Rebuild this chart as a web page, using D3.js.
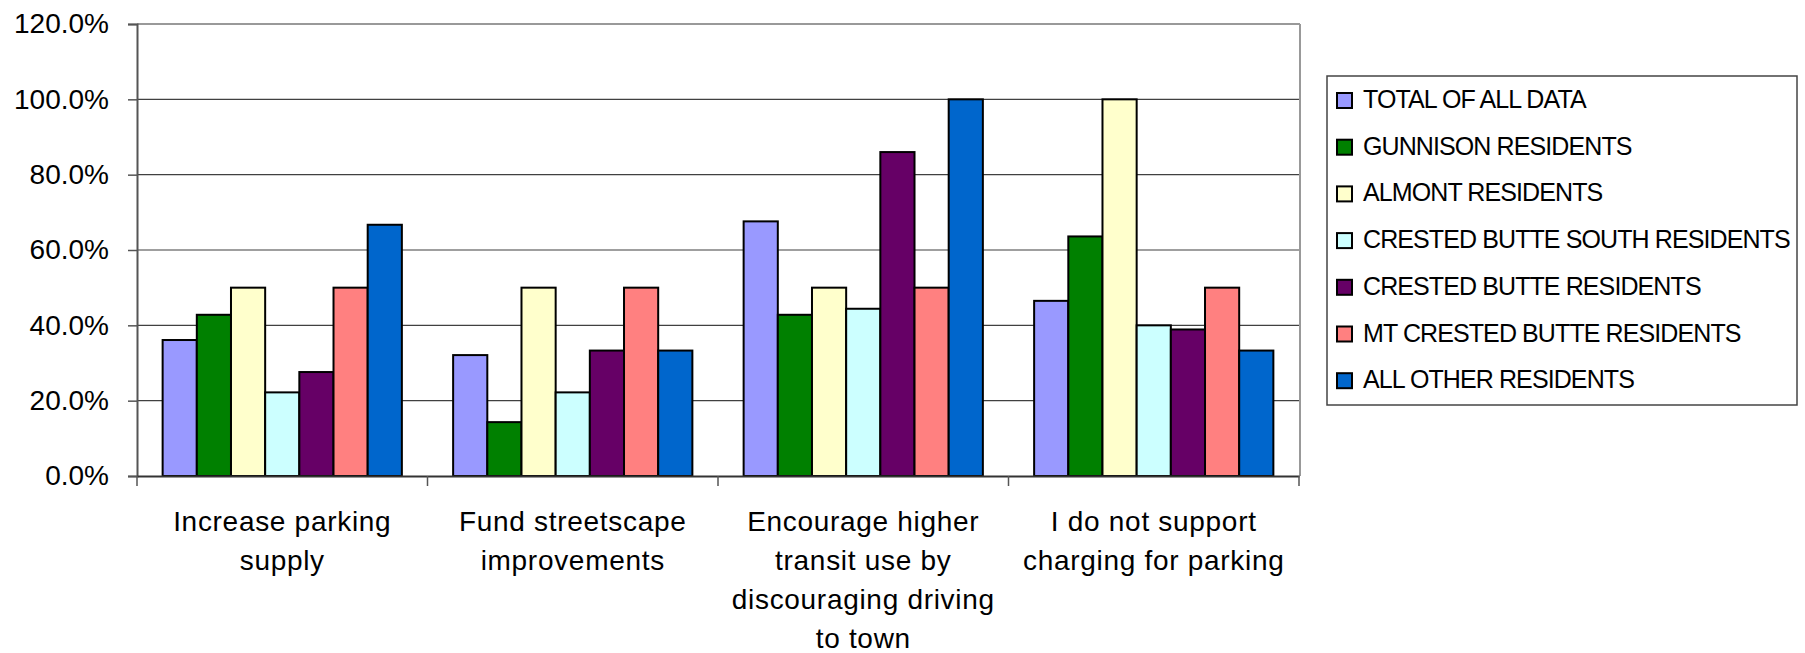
<!DOCTYPE html>
<html>
<head>
<meta charset="utf-8">
<script src="https://cdn.jsdelivr.net/npm/d3@7"></script>
<style>
  html, body { margin: 0; padding: 0; background: #fff; }
  svg { display: block; }
  text { font-family: "Liberation Sans", Arial, sans-serif; fill: #000; }
</style>
</head>
<body>
<svg id="chart" width="1805" height="653"></svg>
<script>
// ---- data ----
const categories = [
  "Increase parking\nsupply",
  "Fund streetscape\nimprovements",
  "Encourage higher\ntransit use by\ndiscouraging driving\nto town",
  "I do not support\ncharging for parking"
];
const seriesNames = [
  "TOTAL OF ALL DATA",
  "GUNNISON RESIDENTS",
  "ALMONT RESIDENTS",
  "CRESTED BUTTE SOUTH RESIDENTS",
  "CRESTED BUTTE RESIDENTS",
  "MT CRESTED BUTTE RESIDENTS",
  "ALL OTHER RESIDENTS"
];
const totalAll        = [0.361, 0.321, 0.676, 0.465];
const gunnison        = [0.428, 0.143, 0.428, 0.636];
const almont          = [0.500, 0.500, 0.500, 1.000];
const crestedSouth    = [0.222, 0.222, 0.444, 0.400];
const crestedButte    = [0.276, 0.333, 0.860, 0.389];
const mtCrestedButte  = [0.500, 0.500, 0.500, 0.500];
const allOther        = [0.667, 0.333, 1.000, 0.333];
const seriesValues = [totalAll, gunnison, almont, crestedSouth, crestedButte, mtCrestedButte, allOther];
const seriesColors = ["#9999FF", "#008000", "#FFFFCC", "#CCFFFF", "#660066", "#FF8080", "#0066CC"];
const yTicks = [0, 0.2, 0.4, 0.6, 0.8, 1.0, 1.2];

// ---- layout ----
const plot = { left: 137, right: 1299, top: 24, bottom: 476 };
const svg = d3.select("#chart");

const x0 = d3.scaleBand().domain(d3.range(categories.length))
  .range([plot.left, plot.right]).padding(0);
const x1 = d3.scaleBand().domain(d3.range(seriesNames.length))
  .range([0, x0.bandwidth()]).paddingInner(0).paddingOuter(0.75);
const y = d3.scaleLinear().domain([0, 1.2]).range([plot.bottom, plot.top]);

// gridlines
svg.append("g").selectAll("line")
  .data(yTicks.filter(t => t > 0 && t < 1.2))
  .join("line")
  .attr("x1", plot.left).attr("x2", plot.right)
  .attr("y1", d => y(d)).attr("y2", d => y(d))
  .attr("stroke", "#404040").attr("stroke-width", 1.2);

// plot border top & right
svg.append("line").attr("x1", plot.left).attr("x2", plot.right + 1)
  .attr("y1", plot.top).attr("y2", plot.top)
  .attr("stroke", "#999").attr("stroke-width", 2);
svg.append("line").attr("x1", plot.right + 1).attr("x2", plot.right + 1)
  .attr("y1", plot.top).attr("y2", plot.bottom)
  .attr("stroke", "#999").attr("stroke-width", 2);

// bars
const groups = svg.append("g").selectAll("g")
  .data(categories.map((c, i) => i))
  .join("g")
  .attr("transform", i => `translate(${x0(i)},0)`);
groups.selectAll("rect")
  .data(i => seriesValues.map((vals, s) => ({ s, v: vals[i] })))
  .join("rect")
  .attr("x", d => x1(d.s))
  .attr("width", x1.bandwidth())
  .attr("y", d => y(d.v))
  .attr("height", d => y(0) - y(d.v))
  .attr("fill", d => seriesColors[d.s])
  .attr("stroke", "#000").attr("stroke-width", 2);

// y axis
const yAxis = d3.axisLeft(y).tickValues(yTicks).tickFormat(d3.format(".1%"))
  .tickSize(9).tickPadding(19);
const gy = svg.append("g").attr("transform", `translate(${plot.left},0)`).call(yAxis);
gy.select(".domain").attr("stroke", "#555").attr("stroke-width", 2);
gy.selectAll(".tick line").attr("stroke", "#555").attr("stroke-width", 1.5);
gy.selectAll(".tick text").attr("font-size", 28).attr("fill", "#000")
  .attr("font-family", "'Liberation Sans', Arial, sans-serif");

// x axis (line + boundary ticks)
const xAxis = d3.axisBottom(x0).tickSize(0).tickFormat("");
const gx = svg.append("g").attr("transform", `translate(0,${plot.bottom})`).call(xAxis);
gx.select(".domain").attr("stroke", "#333").attr("stroke-width", 2);
gx.selectAll(".tick").remove();
const bounds = d3.range(categories.length).map(i => x0(i)).concat([plot.right]);
gx.selectAll("line.bt").data(bounds).join("line").attr("class", "bt")
  .attr("x1", d => d).attr("x2", d => d).attr("y1", 0).attr("y2", 10)
  .attr("stroke", "#555").attr("stroke-width", 1.5);

// category labels
const labels = svg.append("g").selectAll("text")
  .data(categories.map((c, i) => ({ c, i })))
  .join("text")
  .attr("text-anchor", "middle")
  .attr("font-size", 28)
  .attr("letter-spacing", 0.7)
  .attr("transform", d => `translate(${x0(d.i) + x0.bandwidth() / 2},531)`);
labels.selectAll("tspan")
  .data(d => d.c.split("\n"))
  .join("tspan")
  .attr("x", 0)
  .attr("y", (d, k) => k * 39)
  .text(d => d);

// legend
const lg = svg.append("g").attr("transform", "translate(1327,76)");
lg.append("rect").attr("x", 0).attr("y", 0).attr("width", 470).attr("height", 329)
  .attr("fill", "#fff").attr("stroke", "#444").attr("stroke-width", 1.5);
const items = lg.selectAll("g.item").data(seriesNames).join("g").attr("class", "item")
  .attr("transform", (d, i) => `translate(0,${32 + i * 46.7})`);
items.append("rect").attr("x", 10).attr("y", -15).attr("width", 15).attr("height", 15)
  .attr("fill", (d, i) => seriesColors[i]).attr("stroke", "#000").attr("stroke-width", 2);
items.append("text").attr("x", 36).attr("y", 0)
  .attr("font-size", 25).attr("letter-spacing", -0.9)
  .text(d => d);
</script>
</body>
</html>
